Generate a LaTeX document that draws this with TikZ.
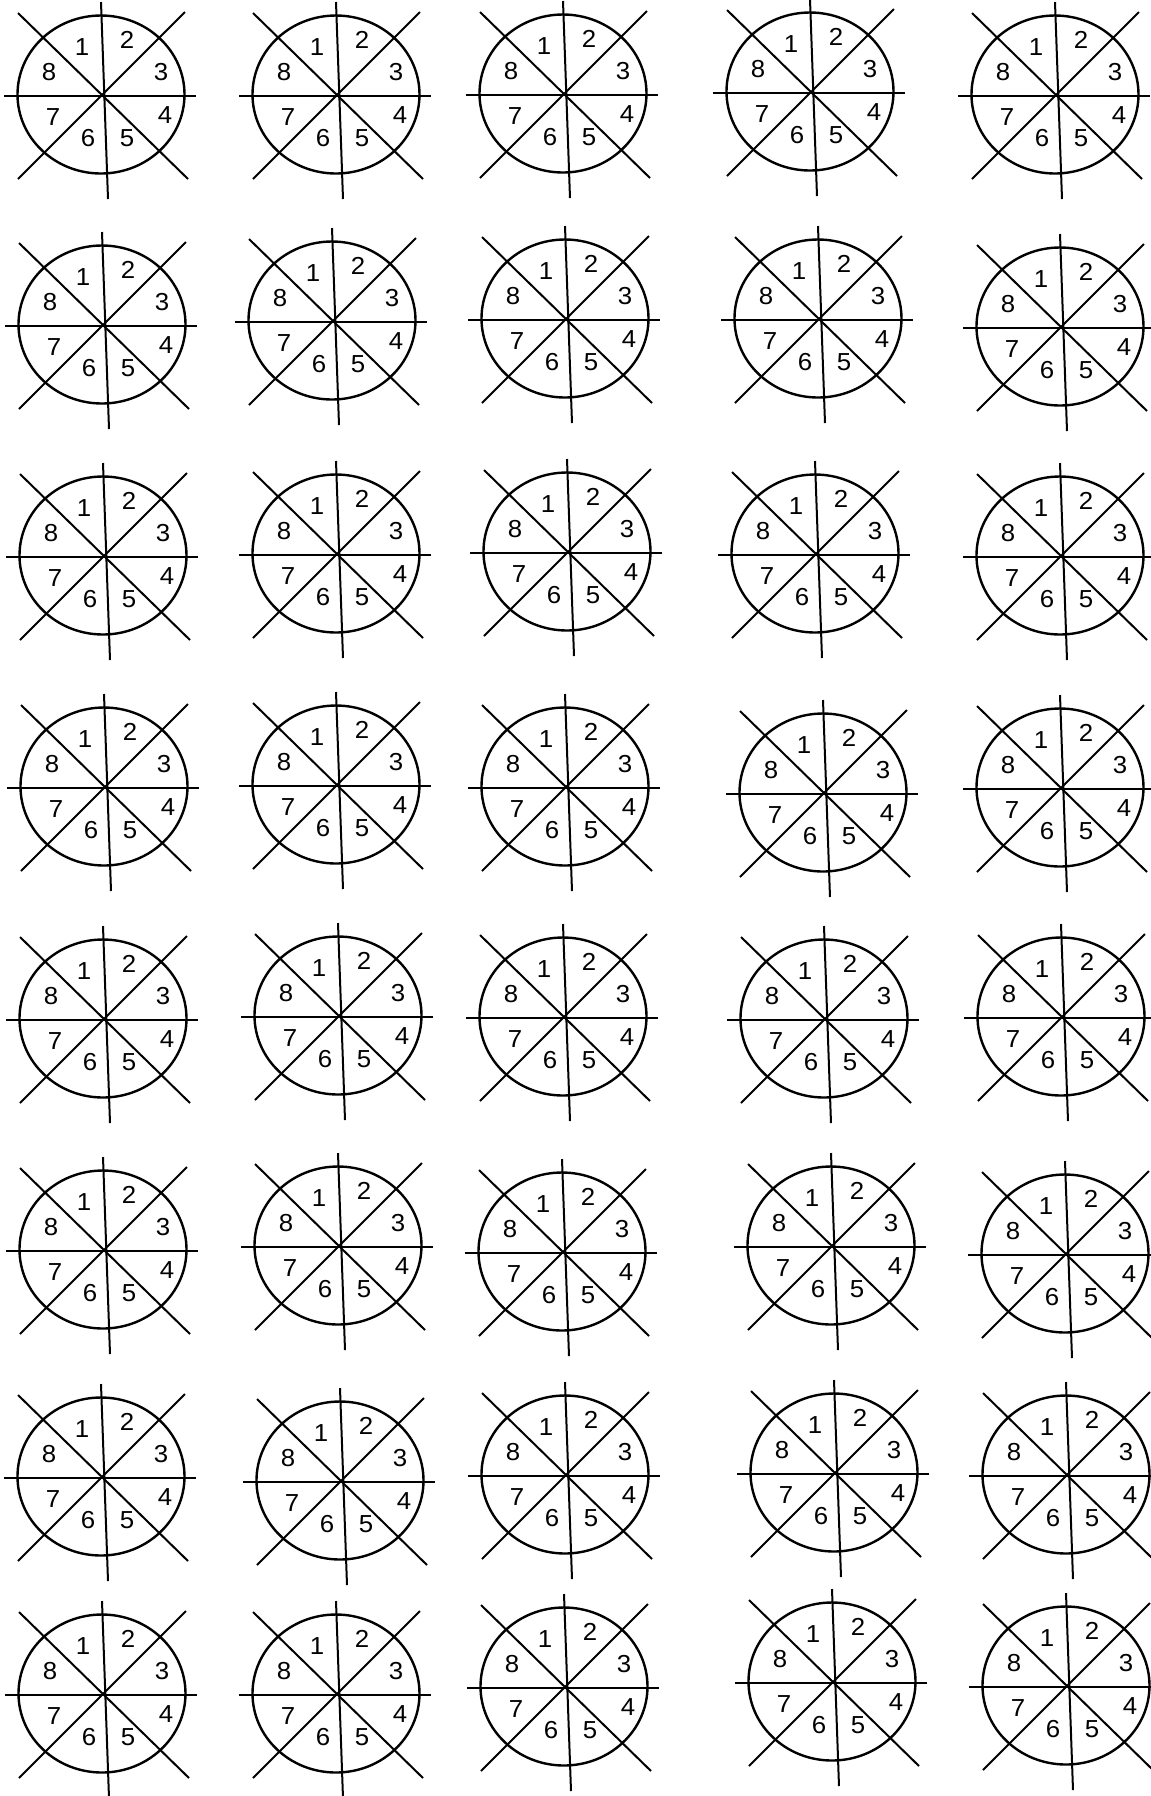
\documentclass[tikz,border=0pt]{standalone}
\usepackage{fontspec}
\setmainfont{Liberation Sans}

\begin{document}
\begin{tikzpicture}[
  x=0.5pt, y=-0.5pt,
  rim/.style={line width=1.2pt},
  spoke/.style={line width=1pt},
  sector/.style={inner sep=0pt, font=\fontsize{12.3}{14}\selectfont}
]
  \useasboundingbox (0,0) rectangle (1151,1796);
  % one wheel per sheet position, row by row
  \foreach \cx/\cy [count=\k] in {
      103/96, 338/96, 565/95, 812/93, 1057/96,
      104/326, 334/322, 567/320, 820/320, 1062/328,
      105/557, 338/555, 569/553, 817/555, 1062/557,
      106/788, 338/786, 567/788, 825/794, 1062/789,
      105/1020, 340/1017, 565/1018, 826/1020, 1063/1018,
      105/1251, 340/1247, 564/1253, 833/1247, 1067/1255,
      103/1478, 342/1482, 567/1476, 836/1474, 1068/1476,
      104/1695, 338/1695, 566/1688, 834/1683, 1068/1687} {
    \begin{scope}[shift={(\cx,\cy)}]
      \draw[rim] (-2,-1.5) ellipse [x radius=83.5, y radius=79];
      \draw[spoke] (-2,-94) -- (5,103);
      \draw[spoke] (-99,0) -- (93,0);
      \draw[spoke] (-85,-83) -- (85,83);
      \draw[spoke] (82,-84) -- (-85,83);
      \foreach \d/\dx/\dy in {1/-21/-49, 2/24/-56, 3/58/-24, 4/62/19,
                              5/24/42, 6/-15/42, 7/-50/21, 8/-54/-24}
        \node[sector, xscale=1.05] (w\k-\d) at (\dx,\dy) {\d};
    \end{scope}
  }
\end{tikzpicture}
\end{document}
